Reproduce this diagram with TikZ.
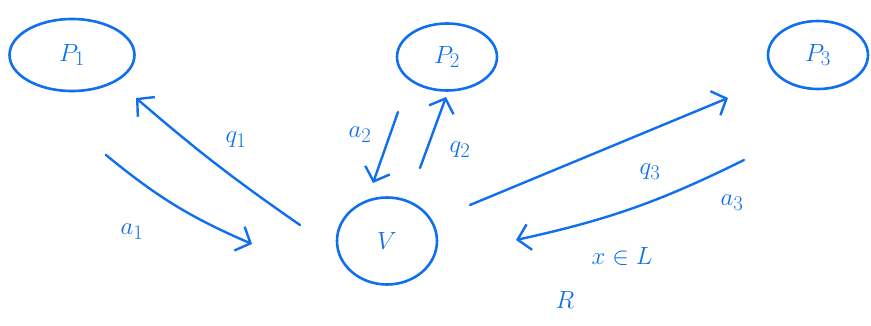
\documentclass[tikz,border=0pt]{standalone}
\usepackage{xcolor}
\usepackage{tikz}
\usetikzlibrary{positioning,arrows.meta,shapes.geometric}
\definecolor{ink}{HTML}{0F6FEF}
\tikzset{
  party/.style={ellipse, draw=ink, line width=2.6pt, inner sep=0pt, text=ink,
                font=\fontsize{30}{34}\selectfont},
  lbl/.style={text=ink, font=\fontsize{30}{34}\selectfont},
  arr/.style={-{Straight Barb[length=12pt, width=26pt, line width=2.4pt]}, line width=2.4pt,
              draw=ink, line cap=round},
}

\begin{document}
\begin{tikzpicture}[x=1pt, y=-1pt]
    \useasboundingbox (0,0) rectangle (871,326);
    %% --- parties ---
    \node[party, minimum width=125pt, minimum height=72pt] (P1) at (72,55) {$P_1$};
    \node[party, minimum width=100pt, minimum height=67pt] (P2) at (447,57) {$P_2$};
    \node[party, minimum width=100pt, minimum height=68pt] (P3) at (818,55) {$P_3$};
    \node[party, minimum width=100pt, minimum height=87pt] (V) at (387,241) {$V$};

    %% --- ends of the messages ---
    \coordinate (q1s) at (300,225);  \coordinate (q1e) at (136,98);
    \coordinate (a1s) at (106,155);  \coordinate (a1e) at (252,244);
    \coordinate (a2s) at (398,112);  \coordinate (a2e) at (373,183);
    \coordinate (q2s) at (420,168);  \coordinate (q2e) at (446,97);
    \coordinate (q3s) at (470,205);  \coordinate (q3e) at (728,98);
    \coordinate (a3s) at (744,160);  \coordinate (a3e) at (516,240);

    %% --- messages ---
    \draw[arr] (q1s) to[bend left=3] (q1e);
    \draw[arr] (a1s) to[bend right=8] (a1e);
    \draw[arr] (a2s) -- (a2e);
    \draw[arr] (q2s) -- (q2e);
    \draw[arr] (q3s) -- (q3e);
    \draw[arr] (a3s) to[bend left=7] (a3e);

    %% --- labels ---
    \node[lbl] (lq1) at (236,140) {$q_1$};
    \node[lbl] (la1) at (132,232) {$a_1$};
    \node[lbl] (la2) at (360,135) {$a_2$};
    \node[lbl] (lq2) at (460,150) {$q_2$};
    \node[lbl] (lq3) at (650,172) {$q_3$};
    \node[lbl] (la3) at (732,203) {$a_3$};
    \node[lbl] (lx) at (622,256) {$x \in L$};
    \node[lbl] (lR) at (565,300) {$R$};
  \end{tikzpicture}
\end{document}
